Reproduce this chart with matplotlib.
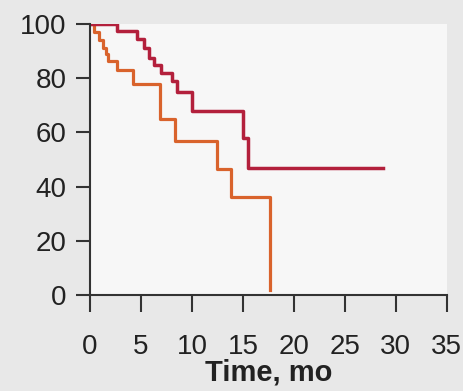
import numpy as np
import matplotlib.pyplot as plt

plt.rcParams['font.family'] = ['Liberation Sans', 'DejaVu Sans']

# Kaplan-Meier style curves (time in months, % surviving)
t_red = [0, 2.6, 4.6, 5.3, 5.8, 6.3, 7.0, 8.0, 8.5, 10.0, 15.0, 15.5, 28.7]
v_red = [100, 97.5, 94.5, 91, 87.5, 85, 82, 79, 75, 68, 58, 47, 47]

t_orange = [0, 0.4, 0.9, 1.3, 1.6, 1.8, 2.6, 4.2, 6.9, 8.3, 12.5, 13.8, 17.7]
v_orange = [100, 97, 94, 91, 89, 86.5, 83, 78, 65, 57, 46.5, 36, 2]

xticks = [0, 5, 10, 15, 20, 25, 30, 35]
yticks = [0, 20, 40, 60, 80, 100]

fig = plt.figure(figsize=(4.64, 3.91), dpi=100, facecolor='#e8e8e8')
ax = fig.add_axes([0.194, 0.2455, 0.769, 0.693])
ax.set_facecolor('#f7f7f7')

ax.step(t_orange, v_orange, where='post', color='#d9632c', lw=2.3)
ax.step(t_red, v_red, where='post', color='#b3203c', lw=2.5)

ax.set_xlim(0, 35)
ax.set_ylim(0, 100)
ax.set_xticks(xticks)
ax.set_yticks(yticks)
ax.spines['top'].set_visible(False)
ax.spines['right'].set_visible(False)
for s in ['left', 'bottom']:
    ax.spines[s].set_linewidth(1.5)
    ax.spines[s].set_color('#333333')
ax.tick_params(direction='out', width=1.5, color='#333333',
               labelsize=20, labelcolor='#222222')
ax.tick_params(axis='x', length=12, pad=16)
ax.tick_params(axis='y', length=10, pad=7)
ax.set_xlabel('Time, mo', fontsize=21, fontweight='bold', color='#222222', labelpad=-1)

fig.savefig('out.png', dpi=100, facecolor=fig.get_facecolor())
